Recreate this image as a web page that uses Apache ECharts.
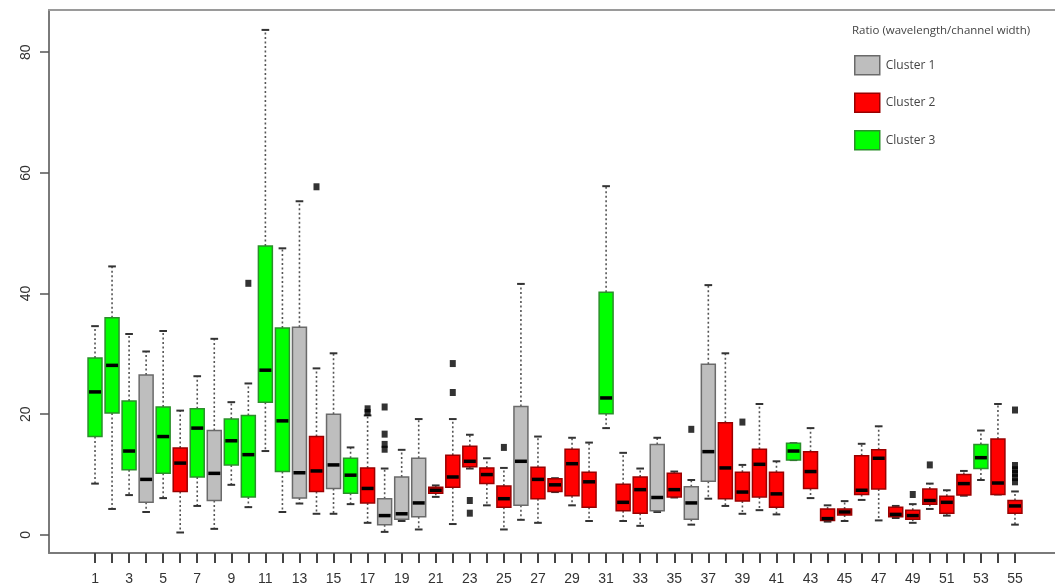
<!DOCTYPE html>
<html>
<head>
<meta charset="utf-8">
<script src="https://cdn.jsdelivr.net/npm/echarts@6/dist/echarts.min.js"></script>
<style>html,body{margin:0;padding:0;background:#fff;}#chart{width:1055px;height:588px;}</style>
</head>
<body>
<div id="chart"></div>
<script>
// ---- data ----
const categories = Array.from({length: 55}, (_, i) => String(i + 1));
// 1 = Cluster 1 (grey), 2 = Cluster 2 (red), 3 = Cluster 3 (green)
const clusters = [3,3,3,1,3,2,3,1,3,3, 3,3,1,2,1,3,2,1,1,1, 2,2,2,2,2,1,2,2,2,2, 3,2,2,1,2,1,1,2,2,2, 2,3,2,2,2,2,2,2,2,2, 2,2,3,2,2];
const whiskerLow = [8.5,4.3,6.6,3.8,6.1,0.4,4.8,1.0,8.3,4.6, 13.9,3.8,5.2,3.5,3.5,5.1,2.0,0.5,2.3,0.9, 6.3,1.8,11.0,4.9,0.9,2.5,2.0,7.1,4.9,2.3, 17.7,2.3,1.5,3.8,6.2,1.7,6.0,4.8,3.5,4.1, 3.4,12.4,6.1,2.2,2.3,5.8,2.4,2.8,2.0,4.3, 3.2,6.5,9.1,6.7,1.7];
const q1 = [16.3,20.2,10.8,5.4,10.2,7.2,9.6,5.7,11.6,6.3, 22.0,10.5,6.1,7.2,7.7,6.9,5.3,1.7,2.6,3.0, 6.9,7.9,11.3,8.5,4.6,4.9,6.0,7.2,6.5,4.6, 20.1,4.0,3.6,4.0,6.3,2.6,8.9,6.0,5.6,6.3, 4.6,12.4,7.7,2.4,3.3,6.7,7.6,3.0,2.6,5.1, 3.6,6.6,11.0,6.7,3.6];
const median = [23.7,28.1,13.9,9.2,16.3,11.9,17.7,10.2,15.6,13.3, 27.3,18.9,10.3,10.6,11.6,9.9,7.7,3.2,3.5,5.3, 7.4,9.6,12.2,10.0,6.0,12.2,9.2,8.3,11.8,8.8, 22.7,5.4,7.5,6.2,7.5,5.3,13.8,11.1,7.1,11.7, 6.8,13.9,10.5,2.7,3.8,7.4,12.7,3.4,3.2,5.7, 5.4,8.5,12.8,8.6,4.8];
const q3 = [29.3,36.0,22.2,26.5,21.2,14.4,20.9,17.3,19.2,19.8, 47.9,34.3,34.4,16.3,20.0,12.7,11.1,6.0,9.6,12.7, 7.9,13.2,14.7,11.1,8.1,21.3,11.2,9.3,14.2,10.4, 40.2,8.4,9.6,15.0,10.2,8.0,28.3,18.6,10.4,14.2, 10.4,15.2,13.8,4.3,4.3,13.1,14.1,4.6,4.1,7.6, 6.4,10.0,15.0,15.9,5.7];
const whiskerHigh = [34.6,44.5,33.3,30.4,33.8,20.6,26.3,32.5,22.0,25.1, 83.7,47.5,55.3,27.6,30.1,14.5,19.8,11.0,14.1,19.2, 8.2,19.2,16.6,12.7,11.1,41.6,16.3,9.4,16.1,15.3, 57.8,13.6,11.0,16.1,10.5,9.1,41.4,30.1,11.6,21.7, 12.2,15.2,17.7,4.9,5.6,15.1,18.0,4.8,5.1,8.5, 7.4,10.6,17.3,21.7,7.2];
const outlierCategory = ['10','14','17','17','18','18','18','18','22','22','23','23','25','36','39','49','50','55','55','55','55','55','55'];
const outlierValue = [41.7,57.7,20.9,20.3,21.2,16.7,15.0,14.2,28.4,23.6,5.7,3.6,14.5,17.5,18.7,6.7,11.6,20.7,11.5,10.8,10.2,9.5,8.8];
const clusterNames = ['Cluster 1', 'Cluster 2', 'Cluster 3'];
const legendTitle = 'Ratio (wavelength/channel width)';
const yTicks = [0, 20, 40, 60, 80];

// ---- styles ----
const fills = ['#bebebe', '#ff0000', '#00ff00'];
const borders = ['#6a6a6a', '#9a0000', '#2b8f2b'];

function makeRender(ci) {
  return function (params, api) {
    const x = api.value(0);
    const pLow = api.coord([x, api.value(1)]);
    const pQ1 = api.coord([x, api.value(2)]);
    const pMed = api.coord([x, api.value(3)]);
    const pQ3 = api.coord([x, api.value(4)]);
    const pHigh = api.coord([x, api.value(5)]);
    const band = api.size([1, 0])[0];
    const bw = band * 0.82;
    const cw = band * 0.45;
    const cx = pMed[0];
    const wStyle = {stroke: '#555', lineWidth: 1.6, lineDash: [2, 2.5]};
    const cStyle = {stroke: '#333', lineWidth: 2};
    return {
      type: 'group',
      children: [
        {type: 'line', shape: {x1: cx, y1: pQ3[1], x2: cx, y2: pHigh[1]}, style: wStyle},
        {type: 'line', shape: {x1: cx, y1: pQ1[1], x2: cx, y2: pLow[1]}, style: wStyle},
        {type: 'line', shape: {x1: cx - cw / 2, y1: pHigh[1], x2: cx + cw / 2, y2: pHigh[1]}, style: cStyle},
        {type: 'line', shape: {x1: cx - cw / 2, y1: pLow[1], x2: cx + cw / 2, y2: pLow[1]}, style: cStyle},
        {type: 'rect', shape: {x: cx - bw / 2, y: pQ3[1], width: bw, height: Math.max(pQ1[1] - pQ3[1], 1)},
          style: {fill: fills[ci], stroke: borders[ci], lineWidth: 1.5}},
        {type: 'line', shape: {x1: cx - bw / 2 + 1, y1: pMed[1], x2: cx + bw / 2 - 1, y2: pMed[1]},
          style: {stroke: '#000', lineWidth: 3.5}}
      ]
    };
  };
}

const seriesData = [[], [], []];
categories.forEach((c, i) => {
  seriesData[clusters[i] - 1].push([i, whiskerLow[i], q1[i], median[i], q3[i], whiskerHigh[i]]);
});

const boxSeries = clusterNames.map((name, ci) => ({
  name: name,
  type: 'custom',
  xAxisIndex: 0,
  yAxisIndex: 0,
  renderItem: makeRender(ci),
  encode: {x: 0, y: [1, 2, 3, 4, 5]},
  itemStyle: {color: fills[ci], borderColor: borders[ci], borderWidth: 1.5},
  data: seriesData[ci],
  z: 2
}));

const outlierSeries = {
  name: 'outliers',
  type: 'scatter',
  xAxisIndex: 0,
  yAxisIndex: 0,
  symbol: 'rect',
  symbolSize: [6, 7],
  itemStyle: {color: '#000'},
  data: outlierCategory.map((c, i) => [c, outlierValue[i]]),
  z: 3
};

const chart = echarts.init(document.getElementById('chart'), null, {renderer: 'canvas'});
chart.setOption({
  animation: false,
  backgroundColor: '#fff',
  title: {
    text: legendTitle,
    left: 847, top: 20,
    textStyle: {fontFamily: 'Open Sans', fontSize: 11.5, fontWeight: 'normal', color: '#444'}
  },
  legend: {
    orient: 'vertical',
    left: 849, top: 50,
    itemWidth: 25, itemHeight: 19, itemGap: 17,
    icon: 'rect',
    textStyle: {fontFamily: 'Open Sans', fontSize: 12, color: '#444', padding: [0, 0, 0, 1]},
    data: clusterNames.map((n, ci) => ({name: n, itemStyle: {color: fills[ci], borderColor: borders[ci], borderWidth: 1.5}})),
    selectedMode: false
  },
  grid: [
    {left: 86.5, right: 31.5, top: 10, bottom: 35, containLabel: false},
    {left: 49, right: 0, top: 10, bottom: 35, containLabel: false}
  ],
  xAxis: [
    {
      type: 'category', gridIndex: 0, data: categories, boundaryGap: true, position: 'bottom',
      axisLine: {show: false, onZero: false},
      axisTick: {show: true, alignWithLabel: true, interval: 0, length: 10, lineStyle: {color: '#444', width: 2}},
      axisLabel: {interval: 1, margin: 19, fontFamily: 'Liberation Sans', fontSize: 14, color: '#333'},
      splitLine: {show: false}
    },
    {
      type: 'value', gridIndex: 1, position: 'bottom', min: 0, max: 1,
      axisLine: {show: true, onZero: false, lineStyle: {color: '#7a7a7a', width: 2}},
      axisTick: {show: false}, axisLabel: {show: false}, splitLine: {show: false}
    },
    {
      type: 'value', gridIndex: 1, position: 'top', min: 0, max: 1,
      axisLine: {show: true, onZero: false, lineStyle: {color: '#9a9a9a', width: 2}},
      axisTick: {show: false}, axisLabel: {show: false}, splitLine: {show: false}
    }
  ],
  yAxis: [
    {
      type: 'value', gridIndex: 0, position: 'left', offset: 37.5,
      min: -3, max: 87,
      axisLine: {show: true, onZero: false, lineStyle: {color: '#7a7a7a', width: 2}},
      axisTick: {show: true, length: 9, customValues: yTicks, lineStyle: {color: '#555', width: 1.5}},
      axisLabel: {customValues: yTicks, rotate: 90, margin: 16, fontFamily: 'Liberation Sans', fontSize: 14, color: '#333'},
      splitLine: {show: false}
    },
    {
      type: 'value', gridIndex: 1, show: false, min: 0, max: 1
    }
  ],
  series: boxSeries.concat([outlierSeries])
});
</script>
</body>
</html>
